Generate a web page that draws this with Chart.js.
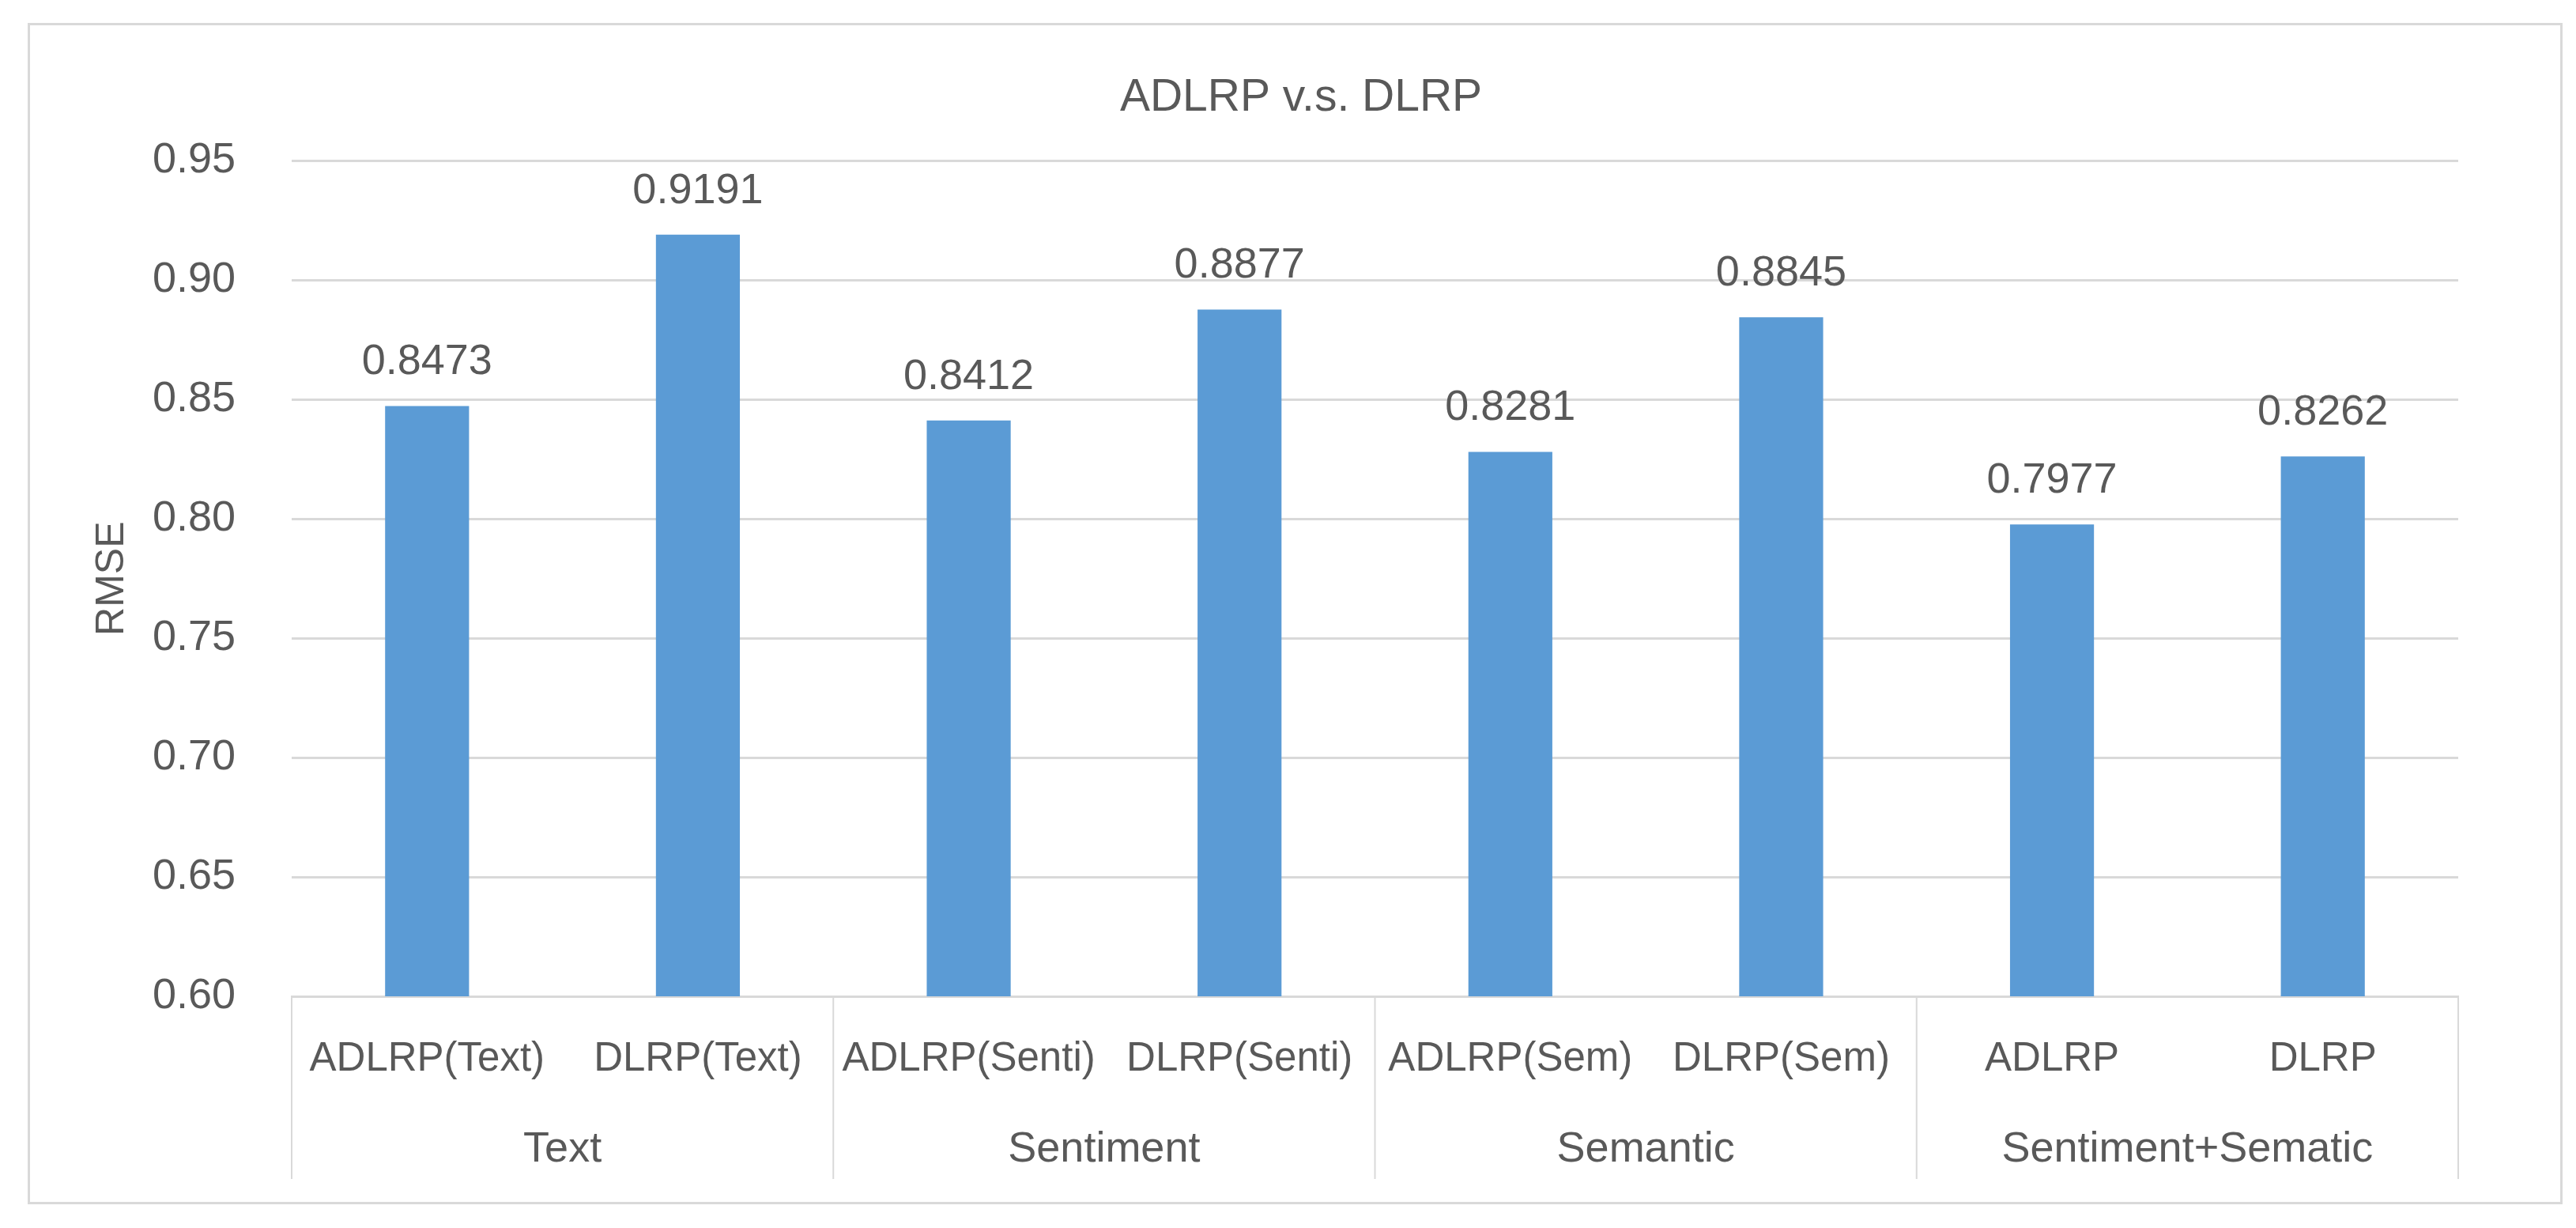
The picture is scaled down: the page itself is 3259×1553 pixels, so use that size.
<!DOCTYPE html>
<html>
<head>
<meta charset="utf-8">
<title>ADLRP v.s. DLRP</title>
<script src="https://cdn.jsdelivr.net/npm/chart.js@4.4.1/dist/chart.umd.min.js"></script>
<style>
    html, body { margin: 0; padding: 0; background: #ffffff; }
    canvas { display: block; }
</style>
</head>
<body>
<canvas id="grafico" width="3259" height="1553"></canvas>
<script>
// ==========================================
// 1. DATA
// ==========================================

const categorias = [
    "ADLRP(Text)", "DLRP(Text)",
    "ADLRP(Senti)", "DLRP(Senti)",
    "ADLRP(Sem)", "DLRP(Sem)",
    "ADLRP", "DLRP",
];
const grupos = ["Text", "Sentiment", "Semantic", "Sentiment+Sematic"];
const tamanhoGrupos = [2, 2, 2, 2];
const valoresRmse = [0.8473, 0.9191, 0.8412, 0.8877, 0.8281, 0.8845, 0.7977, 0.8262];
const ticksY = [0.6, 0.65, 0.7, 0.75, 0.8, 0.85, 0.9, 0.95];

// ==========================================
// 2. STYLE
// ==========================================

const FONTE = "'Liberation Sans', Arial, sans-serif";
const COR_TEXTO = "#595959";
const COR_LINHA = "#d9d9d9";
const COR_BARRA = "#5b9bd5";

// outer frame of the chart
const molduraPlugin = {
    id: "moldura",
    beforeDraw(chart) {
        const ctx = chart.ctx;
        ctx.save();
        ctx.strokeStyle = COR_LINHA;
        ctx.lineWidth = 3;
        ctx.strokeRect(36.5, 30.5, chart.width - 55, chart.height - 62);
        ctx.restore();
    },
};

// value labels above each bar
const rotulosPlugin = {
    id: "rotulos",
    afterDatasetsDraw(chart) {
        const ctx = chart.ctx;
        const meta = chart.getDatasetMeta(0);
        ctx.save();
        ctx.font = `54px ${FONTE}`;
        ctx.fillStyle = COR_TEXTO;
        ctx.textAlign = "center";
        ctx.textBaseline = "alphabetic";
        meta.data.forEach((barra, i) => {
            ctx.fillText(valoresRmse[i].toFixed(4), barra.x, barra.y - 40);
        });
        ctx.restore();
    },
};

// vertical separators between the category groups
const separadoresPlugin = {
    id: "separadores",
    afterDraw(chart) {
        const x = chart.scales.x;
        const x2 = chart.scales.x2;
        const passo = x.getPixelForValue(1) - x.getPixelForValue(0);
        const ctx = chart.ctx;
        ctx.save();
        ctx.strokeStyle = COR_LINHA;
        ctx.lineWidth = 2;
        let indice = 0;
        const bordas = [x.getPixelForValue(0) - passo / 2];
        tamanhoGrupos.forEach((n) => {
            indice += n;
            bordas.push(x.getPixelForValue(indice - 1) + passo / 2);
        });
        bordas.forEach((px) => {
            ctx.beginPath();
            ctx.moveTo(px, chart.chartArea.bottom);
            ctx.lineTo(px, x2.bottom);
            ctx.stroke();
        });
        ctx.restore();
    },
};

// ==========================================
// 3. CHART
// ==========================================

const ctx = document.getElementById("grafico").getContext("2d");
const grafico = new Chart(ctx, {
    type: "bar",
    data: {
        labels: categorias,
        datasets: [
            {
                label: "RMSE",
                data: valoresRmse,
                backgroundColor: COR_BARRA,
                borderWidth: 0,
                categoryPercentage: 1,
                barPercentage: 0.31,
            },
        ],
    },
    options: {
        responsive: false,
        devicePixelRatio: 1,
        animation: false,
        layout: { padding: { top: 0, left: 33, right: 0, bottom: 62 } },
        plugins: {
            legend: { display: false },
            tooltip: { enabled: false },
            title: {
                display: true,
                text: "ADLRP v.s. DLRP",
                color: COR_TEXTO,
                font: { family: FONTE, size: 57, weight: "normal", lineHeight: 1.2 },
                padding: { top: 90, bottom: 45 },
            },
        },
        scales: {
            y: {
                min: 0.6,
                max: 0.95,
                afterFit: (escala) => { escala.width = 336; },
                afterBuildTicks: (escala) => {
                    escala.ticks = ticksY.map((v) => ({ value: v }));
                },
                ticks: {
                    color: COR_TEXTO,
                    font: { family: FONTE, size: 54 },
                    padding: 71,
                    callback: (v) => Number(v).toFixed(2),
                },
                grid: { color: COR_LINHA, lineWidth: 3, drawTicks: false },
                border: { display: false },
                title: {
                    display: true,
                    text: "RMSE",
                    color: COR_TEXTO,
                    font: { family: FONTE, size: 50, lineHeight: 1.2 },
                    padding: { top: 79 },
                },
            },
            // empty right-hand space, keeps the title centred on the whole frame
            yVazio: {
                type: "linear",
                position: "right",
                afterFit: (escala) => { escala.width = 149; },
                ticks: { display: false },
                grid: { display: false, drawTicks: false },
                border: { display: false },
            },
            x: {
                weight: 0,
                afterFit: (escala) => { escala.height = 110; },
                ticks: {
                    color: COR_TEXTO,
                    font: { family: FONTE, size: 51, lineHeight: 1.2 },
                    padding: 49,
                    autoSkip: false,
                    maxRotation: 0,
                    minRotation: 0,
                },
                grid: { display: false, drawTicks: false },
                border: { display: true, color: COR_LINHA, width: 3 },
            },
            x2: {
                type: "category",
                position: "bottom",
                weight: 1,
                labels: grupos,
                offset: true,
                afterFit: (escala) => { escala.height = 121; },
                ticks: {
                    color: COR_TEXTO,
                    font: { family: FONTE, size: 54, lineHeight: 1.2 },
                    padding: 52,
                    autoSkip: false,
                    maxRotation: 0,
                    minRotation: 0,
                },
                grid: { display: false, drawTicks: false },
                border: { display: false },
            },
        },
    },
    plugins: [molduraPlugin, rotulosPlugin, separadoresPlugin],
});
</script>
</body>
</html>
